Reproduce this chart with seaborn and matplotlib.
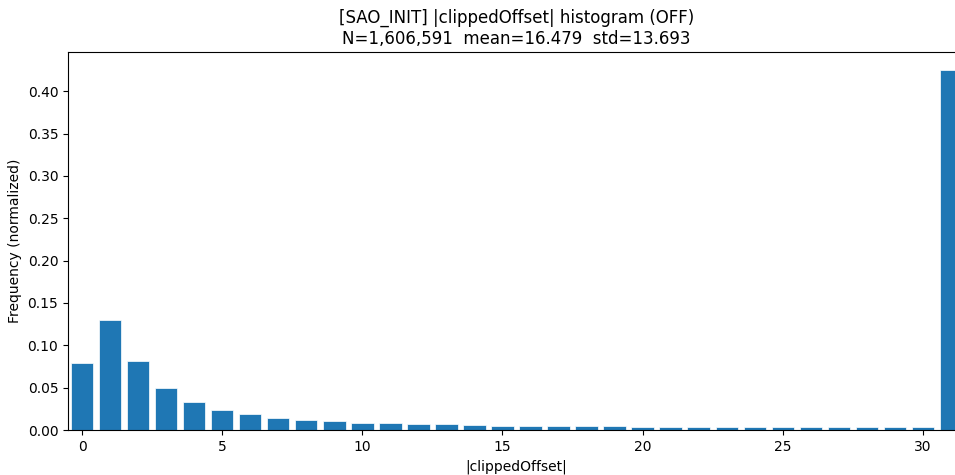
import numpy as np
import pandas as pd
import matplotlib
matplotlib.use("Agg")
import matplotlib.pyplot as plt
import seaborn as sns

# |clippedOffset| values 0..31 and normalized frequencies
offsets = list(range(32))
freqs = [
    0.0788, 0.1300, 0.0820, 0.0500, 0.0335, 0.0240, 0.0185, 0.0146,
    0.0122, 0.0102, 0.0087, 0.0079, 0.0067, 0.0067, 0.0063, 0.0051,
    0.0051, 0.0045, 0.0045, 0.0045, 0.0040, 0.0040, 0.0040, 0.0040,
    0.0040, 0.0040, 0.0040, 0.0040, 0.0040, 0.0033, 0.0033, 0.4250,
]
n_total = "1,606,591"
mean_val = 16.479
std_val = 13.693

df = pd.DataFrame({"offset": offsets, "freq": freqs})

fig = plt.figure(figsize=(9.55, 4.75), dpi=100)
ax = fig.add_axes([68 / 955, 45 / 475, 897 / 955, 378 / 475])

sns.barplot(data=df, x="offset", y="freq", color="#1f77b4", saturation=1,
            width=0.8, edgecolor="white", linewidth=0.5, ax=ax)

ax.set_xticks(range(0, 31, 5))
ax.set_xticklabels([str(v) for v in range(0, 31, 5)])
ax.set_xlim(-0.5, 31.5)
ax.set_ylim(0, max(freqs) * 1.05)
ax.set_yticks(np.arange(0, 0.41, 0.05))
ax.set_yticklabels([f"{v:.2f}" for v in np.arange(0, 0.41, 0.05)])

ax.set_xlabel("|clippedOffset|")
ax.set_ylabel("Frequency (normalized)")
ax.set_title(f"[SAO_INIT] |clippedOffset| histogram (OFF)\n"
             f"N={n_total}  mean={mean_val:.3f}  std={std_val:.3f}", fontsize=12)

fig.savefig("out.png", dpi=100)
